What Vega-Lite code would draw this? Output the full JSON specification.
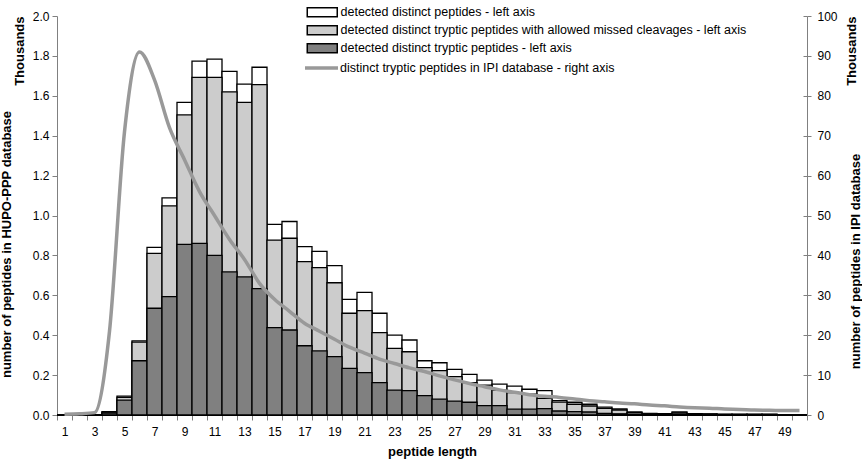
{
  "$schema": "https://vega.github.io/schema/vega-lite/v6.json",
  "width": 750,
  "height": 399,
  "autosize": {"type": "none"},
  "padding": {"left": 57, "top": 16, "right": 55, "bottom": 46},
  "background": "#ffffff",
  "config": {
    "font": "Liberation Sans",
    "view": {"stroke": null},
    "axis": {
      "labelFont": "Liberation Sans",
      "labelFontSize": 12,
      "labelColor": "#000000",
      "titleFont": "Liberation Sans",
      "titleFontSize": 13,
      "titleFontWeight": "bold",
      "titleColor": "#000000",
      "domainColor": "#808080",
      "tickColor": "#808080",
      "grid": false
    },
    "legend": {
      "labelFont": "Liberation Sans",
      "labelFontSize": 12.5,
      "labelColor": "#000000",
      "labelLimit": 600
    }
  },
  "data": {
    "values": [
      {"len": 1, "total": 0, "missed": 0, "tryptic": 0, "ipi": 0.2},
      {"len": 2, "total": 0, "missed": 0, "tryptic": 0, "ipi": 0.3},
      {"len": 3, "total": 0, "missed": 0, "tryptic": 0, "ipi": 0.6},
      {"len": 4, "total": 0.017, "missed": 0.014, "tryptic": 0.01, "ipi": 21},
      {"len": 5, "total": 0.095, "missed": 0.088, "tryptic": 0.075, "ipi": 71},
      {"len": 6, "total": 0.372, "missed": 0.365, "tryptic": 0.272, "ipi": 91},
      {"len": 7, "total": 0.84, "missed": 0.81, "tryptic": 0.535, "ipi": 84},
      {"len": 8, "total": 1.088, "missed": 1.048, "tryptic": 0.593, "ipi": 72},
      {"len": 9, "total": 1.567, "missed": 1.504, "tryptic": 0.855, "ipi": 64},
      {"len": 10, "total": 1.774, "missed": 1.692, "tryptic": 0.86, "ipi": 56},
      {"len": 11, "total": 1.784, "missed": 1.692, "tryptic": 0.8, "ipi": 50},
      {"len": 12, "total": 1.722, "missed": 1.62, "tryptic": 0.717, "ipi": 44},
      {"len": 13, "total": 1.659, "missed": 1.567, "tryptic": 0.692, "ipi": 39},
      {"len": 14, "total": 1.743, "missed": 1.656, "tryptic": 0.633, "ipi": 33},
      {"len": 15, "total": 0.956, "missed": 0.877, "tryptic": 0.438, "ipi": 29},
      {"len": 16, "total": 0.97, "missed": 0.886, "tryptic": 0.426, "ipi": 26},
      {"len": 17, "total": 0.844, "missed": 0.769, "tryptic": 0.347, "ipi": 23},
      {"len": 18, "total": 0.82, "missed": 0.739, "tryptic": 0.321, "ipi": 21},
      {"len": 19, "total": 0.749, "missed": 0.663, "tryptic": 0.293, "ipi": 19},
      {"len": 20, "total": 0.58, "missed": 0.51, "tryptic": 0.234, "ipi": 17},
      {"len": 21, "total": 0.615, "missed": 0.523, "tryptic": 0.212, "ipi": 15.5},
      {"len": 22, "total": 0.51, "missed": 0.413, "tryptic": 0.162, "ipi": 14},
      {"len": 23, "total": 0.4, "missed": 0.334, "tryptic": 0.125, "ipi": 12.9},
      {"len": 24, "total": 0.376, "missed": 0.317, "tryptic": 0.122, "ipi": 11.8},
      {"len": 25, "total": 0.272, "missed": 0.237, "tryptic": 0.097, "ipi": 10.9},
      {"len": 26, "total": 0.262, "missed": 0.222, "tryptic": 0.08, "ipi": 9.8},
      {"len": 27, "total": 0.229, "missed": 0.192, "tryptic": 0.07, "ipi": 8.8},
      {"len": 28, "total": 0.204, "missed": 0.162, "tryptic": 0.064, "ipi": 7.9},
      {"len": 29, "total": 0.175, "missed": 0.15, "tryptic": 0.047, "ipi": 7.1},
      {"len": 30, "total": 0.155, "missed": 0.125, "tryptic": 0.047, "ipi": 6.3},
      {"len": 31, "total": 0.145, "missed": 0.112, "tryptic": 0.029, "ipi": 5.7},
      {"len": 32, "total": 0.129, "missed": 0.105, "tryptic": 0.029, "ipi": 5.1},
      {"len": 33, "total": 0.122, "missed": 0.083, "tryptic": 0.032, "ipi": 4.7},
      {"len": 34, "total": 0.072, "missed": 0.065, "tryptic": 0.02, "ipi": 4.4},
      {"len": 35, "total": 0.064, "missed": 0.054, "tryptic": 0.017, "ipi": 4.0},
      {"len": 36, "total": 0.054, "missed": 0.045, "tryptic": 0.015, "ipi": 3.6},
      {"len": 37, "total": 0.039, "missed": 0.033, "tryptic": 0.008, "ipi": 3.3},
      {"len": 38, "total": 0.03, "missed": 0.025, "tryptic": 0.006, "ipi": 3.0},
      {"len": 39, "total": 0.015, "missed": 0.012, "tryptic": 0.004, "ipi": 2.8},
      {"len": 40, "total": 0.008, "missed": 0.006, "tryptic": 0.002, "ipi": 2.5},
      {"len": 41, "total": 0.007, "missed": 0.005, "tryptic": 0.002, "ipi": 2.3},
      {"len": 42, "total": 0.015, "missed": 0.01, "tryptic": 0.003, "ipi": 2.0},
      {"len": 43, "total": 0.007, "missed": 0.005, "tryptic": 0.002, "ipi": 1.8},
      {"len": 44, "total": 0.006, "missed": 0.004, "tryptic": 0.001, "ipi": 1.7},
      {"len": 45, "total": 0.004, "missed": 0.003, "tryptic": 0.001, "ipi": 1.5},
      {"len": 46, "total": 0.004, "missed": 0.003, "tryptic": 0.001, "ipi": 1.4},
      {"len": 47, "total": 0.004, "missed": 0.003, "tryptic": 0.001, "ipi": 1.25},
      {"len": 48, "total": 0.004, "missed": 0.003, "tryptic": 0.001, "ipi": 1.2},
      {"len": 49, "total": 0, "missed": 0, "tryptic": 0, "ipi": 1.1},
      {"len": 50, "total": 0, "missed": 0, "tryptic": 0, "ipi": 1.1}
    ]
  },
  "encoding": {
    "x": {
      "field": "len",
      "type": "ordinal",
      "scale": {"paddingInner": 0, "paddingOuter": 0},
      "axis": {
        "title": "peptide length",
        "labelAngle": 0,
        "tickBand": "extent",
        "tickSize": 5,
        "labelPadding": 6,
        "titlePadding": 8,
        "labelOverlap": false,
        "domainColor": "#000000",
        "labelExpr": "datum.value % 2 == 1 ? datum.label : ''"
      }
    }
  },
  "layer": [
    {
      "mark": {"type": "bar", "stroke": "#000000", "strokeWidth": 1.3},
      "encoding": {
        "y": {
          "field": "total",
          "type": "quantitative",
          "scale": {"domain": [0, 2]},
          "axis": {
            "orient": "left",
            "values": [0, 0.2, 0.4, 0.6, 0.8, 1.0, 1.2, 1.4, 1.6, 1.8, 2.0],
            "format": ".1f",
            "tickSize": 5,
            "labelPadding": 3,
            "title": "number of peptides in HUPO-PPP database",
            "titlePadding": 19,
            "titleY": 228
          }
        },
        "fill": {
          "datum": "detected distinct peptides - left axis",
          "type": "nominal",
          "scale": {
            "domain": [
              "detected distinct peptides - left axis",
              "detected distinct tryptic peptides with allowed missed cleavages - left axis",
              "detected distinct tryptic peptides - left axis"
            ],
            "range": ["#ffffff", "#cccccc", "#808080"]
          },
          "legend": {
            "title": null,
            "orient": "none",
            "legendX": 259,
            "legendY": -10,
            "symbolSize": 100,
            "symbolType": "M-3,-0.9H3V0.9H-3Z",
            "symbolStrokeColor": "#000000",
            "symbolStrokeWidth": 1.5,
            "symbolOpacity": 1,
            "labelOffset": 12,
            "rowPadding": 2
          }
        }
      }
    },
    {
      "mark": {"type": "bar", "stroke": "#000000", "strokeWidth": 1.3},
      "encoding": {
        "y": {
          "field": "missed",
          "type": "quantitative",
          "scale": {"domain": [0, 2]},
          "axis": {
            "orient": "left",
            "labels": false,
            "ticks": false,
            "domain": false,
            "title": "Thousands",
            "titleAnchor": "end",
            "titlePadding": 31
          }
        },
        "fill": {"datum": "detected distinct tryptic peptides with allowed missed cleavages - left axis", "type": "nominal"}
      }
    },
    {
      "mark": {"type": "bar", "stroke": "#000000", "strokeWidth": 1.3},
      "encoding": {
        "y": {
          "field": "tryptic",
          "type": "quantitative",
          "scale": {"domain": [0, 2]},
          "axis": {
            "orient": "right",
            "labels": false,
            "ticks": true,
            "tickSize": -4,
            "values": [0, 0.2, 0.4, 0.6, 0.8, 1.0, 1.2, 1.4, 1.6, 1.8, 2.0],
            "domain": false,
            "title": "Thousands",
            "titleAngle": -90,
            "titleBaseline": "top",
            "titleAnchor": "end",
            "titlePadding": 38
          }
        },
        "fill": {"datum": "detected distinct tryptic peptides - left axis", "type": "nominal"}
      }
    },
    {
      "mark": {"type": "line", "interpolate": "monotone", "strokeWidth": 3.5},
      "encoding": {
        "y": {
          "field": "ipi",
          "type": "quantitative",
          "scale": {"domain": [0, 100]},
          "axis": {
            "orient": "right",
            "values": [0, 10, 20, 30, 40, 50, 60, 70, 80, 90, 100],
            "tickSize": 4,
            "labelPadding": 6,
            "title": "number of peptides in IPI database",
            "titleAngle": -90,
            "titleBaseline": "top",
            "titlePadding": 12,
            "titleY": 245
          }
        },
        "stroke": {
          "datum": "distinct tryptic peptides in IPI database - right axis",
          "type": "nominal",
          "scale": {"range": ["#999999"]},
          "legend": {
            "title": null,
            "orient": "none",
            "legendX": 259,
            "legendY": 45,
            "symbolSize": 100,
            "symbolType": "M-3.6,0H3",
            "symbolStrokeWidth": 3.5,
            "symbolOpacity": 1,
            "labelOffset": 10
          }
        }
      }
    }
  ],
  "resolve": {"scale": {"y": "independent"}, "axis": {"y": "independent"}}
}
